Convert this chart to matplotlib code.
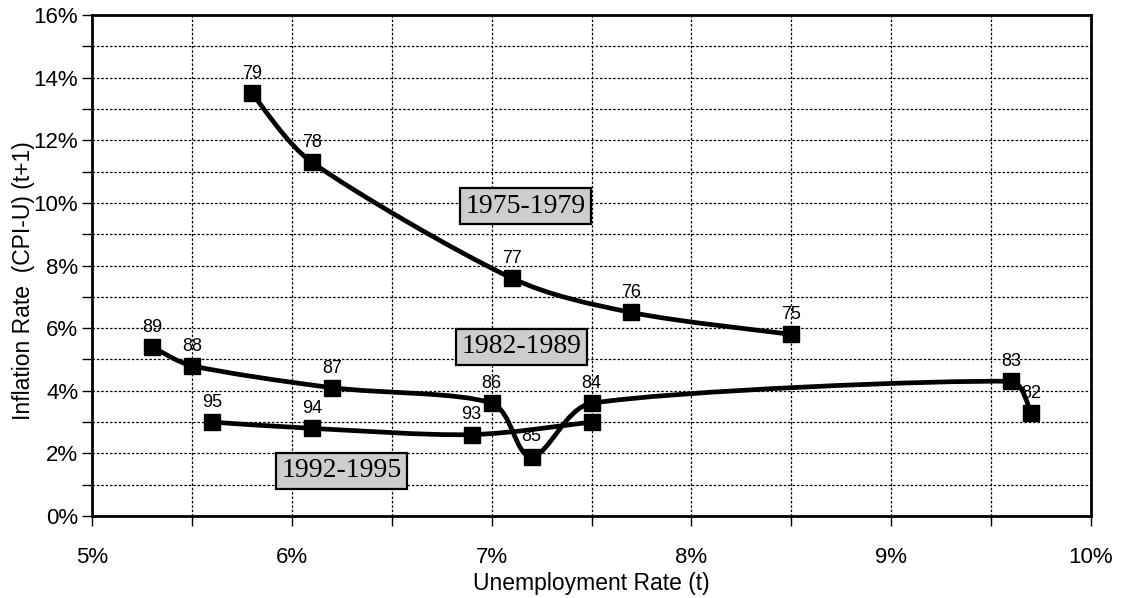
import numpy as np
import matplotlib.pyplot as plt
from matplotlib.path import Path
from matplotlib.patches import PathPatch
from matplotlib.ticker import MultipleLocator, FuncFormatter

# Unemployment rate (t) and CPI-U inflation (t+1), in percent
years_7579 = ['79', '78', '77', '76', '75']
unemp_7579 = [5.8, 6.1, 7.1, 7.7, 8.5]
infl_7579 = [13.5, 11.3, 7.6, 6.5, 5.8]

years_8289 = ['89', '88', '87', '86', '85', '84', '83', '82']
unemp_8289 = [5.3, 5.5, 6.2, 7.0, 7.2, 7.5, 9.6, 9.7]
infl_8289 = [5.4, 4.8, 4.1, 3.6, 1.9, 3.6, 4.3, 3.3]

years_9295 = ['95', '94', '93', '']
unemp_9295 = [5.6, 6.1, 6.9, 7.5]
infl_9295 = [3.0, 2.8, 2.6, 3.0]

box_labels = ['1975-1979', '1982-1989', '1992-1995']
box_pos = [(7.17, 9.9), (7.15, 5.4), (6.25, 1.45)]

# approx pixels per unit on each axis, used to keep the smoothing round on screen
SX, SY = 199.7, 31.3


def smooth_path(xs, ys):
    # bezier through the points, tangents clipped so short segments don't loop
    p = np.column_stack([np.array(xs) * SX, np.array(ys) * SY])
    verts = [p[0]]
    codes = [Path.MOVETO]
    n = len(p)
    for i in range(n - 1):
        p0 = p[i - 1] if i > 0 else p[i]
        p1, p2 = p[i], p[i + 1]
        p3 = p[i + 2] if i + 2 < n else p[i + 1]
        seg = np.linalg.norm(p2 - p1)
        t1 = (p2 - p0) / 6.0
        t2 = (p3 - p1) / 6.0
        for t in (t1, t2):
            L = np.linalg.norm(t)
            if L > seg / 3.0:
                t *= (seg / 3.0) / L
        verts += [p1 + t1, p2 - t2, p2]
        codes += [Path.CURVE4] * 3
    v = np.array(verts)
    v[:, 0] /= SX
    v[:, 1] /= SY
    return Path(v, codes)


fig = plt.figure(figsize=(11.24, 5.98), dpi=100)
ax = fig.add_axes([0.0819, 0.1371, 0.8887, 0.8378])

for xs, ys, yrs in [(unemp_7579, infl_7579, years_7579),
                    (unemp_8289, infl_8289, years_8289),
                    (unemp_9295, infl_9295, years_9295)]:
    ax.add_patch(PathPatch(smooth_path(xs, ys), facecolor='none',
                           edgecolor='black', linewidth=3.4, zorder=3,
                           capstyle='round', joinstyle='round'))
    ax.plot(xs, ys, linestyle='none', marker='s', markersize=11,
            color='black', zorder=4)
    for x, y, t in zip(xs, ys, yrs):
        ax.annotate(t, (x, y), textcoords='offset points', xytext=(0, 8),
                    ha='center', va='bottom', fontsize=13, zorder=5,
                    family='Liberation Sans')

for t, (x, y) in zip(box_labels, box_pos):
    ax.text(x, y, t, ha='center', va='center', fontsize=20,
            family='Liberation Serif', zorder=6,
            bbox=dict(boxstyle='square,pad=0.2', facecolor='#cdcdcd',
                      edgecolor='black', linewidth=1.6))

ax.set_xlim(5, 10)
ax.set_ylim(0, 16)
ax.xaxis.set_major_locator(MultipleLocator(1))
ax.xaxis.set_minor_locator(MultipleLocator(0.5))
ax.yaxis.set_major_locator(MultipleLocator(2))
ax.yaxis.set_minor_locator(MultipleLocator(1))
ax.xaxis.set_major_formatter(FuncFormatter(lambda v, _: f'{v:.0f}%'))
ax.yaxis.set_major_formatter(FuncFormatter(lambda v, _: f'{v:.0f}%'))

ax.grid(True, which='both', color='black', linestyle=(0, (2, 1.5)),
        linewidth=0.9)
ax.set_axisbelow(True)
ax.tick_params(axis='x', which='both', direction='out', length=7, width=1,
               labelsize=16, pad=15)
ax.tick_params(axis='y', which='both', direction='out', length=7, width=1,
               labelsize=16, pad=3)
for lab in ax.get_xticklabels() + ax.get_yticklabels():
    lab.set_family('Liberation Sans')
for s in ax.spines.values():
    s.set_linewidth(2)
    s.set_color('black')

ax.set_xlabel('Unemployment Rate (t)', fontsize=16.5, family='Liberation Sans')
ax.xaxis.set_label_coords(0.5, -0.112)
ax.set_ylabel('Inflation Rate  (CPI-U) (t+1)', fontsize=16.5,
              family='Liberation Sans')
ax.yaxis.set_label_coords(-0.057, 0.47)

fig.savefig('out.png', dpi=100, facecolor='white')
